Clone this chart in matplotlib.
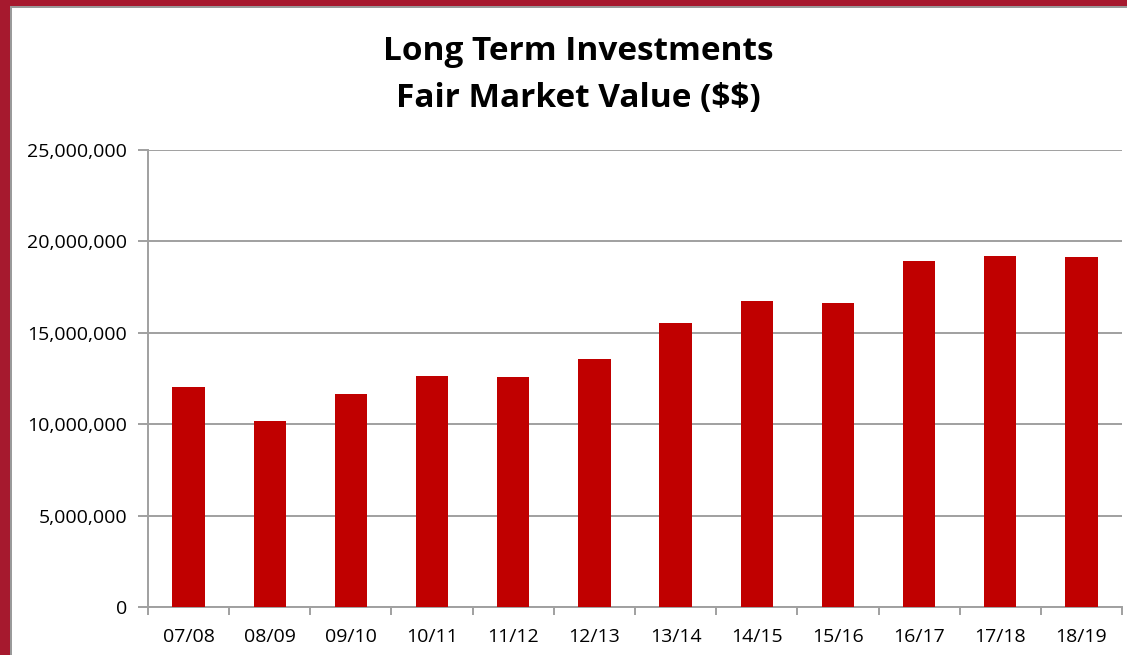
import matplotlib
matplotlib.use("Agg")
from matplotlib import pyplot as plt
from matplotlib.patches import Rectangle
from matplotlib.ticker import FuncFormatter

anos = ["07/08", "08/09", "09/10", "10/11", "11/12", "12/13",
        "13/14", "14/15", "15/16", "16/17", "17/18", "18/19"]
valores = [12040000, 10180000, 11650000, 12640000, 12580000, 13570000,
           15540000, 16740000, 16630000, 18930000, 19200000, 19150000]
y_ticks = [0, 5000000, 10000000, 15000000, 20000000, 25000000]

plt.rcParams['font.family'] = ['Open Sans', 'DejaVu Sans']

fig = plt.figure(figsize=(11.27, 6.55), dpi=100)
fig.patch.set_facecolor("white")

# moldura vermelha (esquerda e topo)
fig.patches.append(Rectangle((0, 0), 10 / 1127, 1, transform=fig.transFigure,
                             facecolor="#A6192E", edgecolor="none", zorder=0))
fig.patches.append(Rectangle((0, 1 - 6 / 655), 1, 6 / 655, transform=fig.transFigure,
                             facecolor="#A6192E", edgecolor="none", zorder=0))
fig.patches.append(Rectangle((10 / 1127, 0), 1.5 / 1127, 1 - 6 / 655, transform=fig.transFigure,
                             facecolor="#9a9a9a", edgecolor="none", zorder=0))
fig.patches.append(Rectangle((10 / 1127, 1 - 7.5 / 655), 1, 1.5 / 655, transform=fig.transFigure,
                             facecolor="#9a9a9a", edgecolor="none", zorder=0))

ax = fig.add_axes([148 / 1127, 1 - 607 / 655, (1122 - 148) / 1127, (607 - 150) / 655])
xs = list(range(len(anos)))
ax.bar(xs, valores, 0.4, color="#C00000", zorder=3)

ax.set_xlim(-0.5, len(anos) - 0.5)
ax.set_ylim(0, 25000000)
ax.set_yticks(y_ticks)
ax.yaxis.set_major_formatter(FuncFormatter(lambda v, p: "{:,.0f}".format(v)))
ax.grid(axis="y", color="#a0a0a0", linewidth=1.4, zorder=0)

ax.set_xticks(xs)
ax.set_xticklabels(anos)
ax.set_xticks([i - 0.5 for i in range(len(anos) + 1)], minor=True)
ax.tick_params(axis="x", which="major", length=0, pad=15, labelsize=14)
ax.tick_params(axis="x", which="minor", length=6, width=1.4, color="#a0a0a0")
ax.tick_params(axis="y", length=7, width=1.4, color="#a0a0a0", pad=8, labelsize=14)

for lado in ["top", "right"]:
  ax.spines[lado].set_visible(False)
ax.spines["left"].set_color("#a0a0a0")
ax.spines["left"].set_linewidth(1.4)
ax.spines["bottom"].set_color("#a0a0a0")
ax.spines["bottom"].set_linewidth(1.4)

fig.text(0.513, 0.885, "Long Term Investments\nFair Market Value (\\$\\$)",
         ha="center", va="center", fontsize=24, fontweight="bold",
         linespacing=1.55)

fig.savefig("out.png", dpi=100)
